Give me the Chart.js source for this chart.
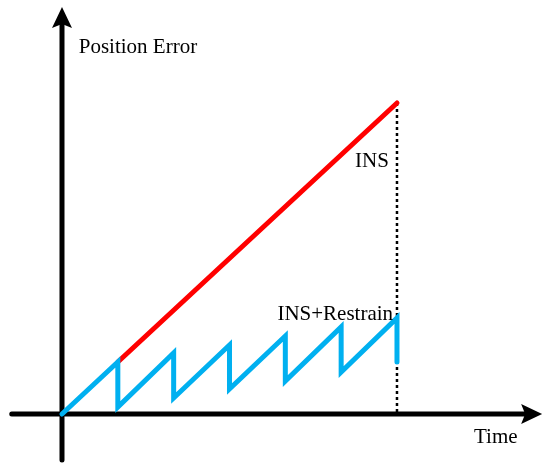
<!DOCTYPE html>
<html>
<head>
<meta charset="utf-8">
<script src="https://cdn.jsdelivr.net/npm/chart.js@4"></script>
<style>
  html, body { margin: 0; padding: 0; background: #fff; }
  #wrap { width: 550px; height: 468px; position: relative; }
</style>
</head>
<body>
<div id="wrap"><canvas id="myChart"></canvas></div>
<script>
// time steps and error values (arbitrary units)
const restrainTime = [0, 1, 1, 2, 2, 3, 3, 4, 4, 5, 5, 6, 6];
const restrainError = [0, 5.2, 0.7, 6.1, 1.6, 6.9, 2.5, 7.8, 3.3, 8.7, 4.2, 9.6, 5.2];
const insTime = [1, 6];
const insError = [5.2, 31.1];
const endTime = [6, 6];
const endError = [31.1, 0];

// axis extents in data units (incl. arrow tips)
const xAxisFrom = -0.9, xAxisTo = 8.6;
const yAxisFrom = -4.6, yAxisTo = 40.7;

const labels = [
  { text: 'Position Error', x: 0.3, y: 36.1, align: 'left' },
  { text: 'INS', x: 5.25, y: 24.7, align: 'left' },
  { text: 'INS+Restrain', x: 5.93, y: 9.4, align: 'right' },
  { text: 'Time', x: 7.38, y: -2.9, align: 'left' }
];

const toPoints = (xs, ys) => xs.map((x, i) => ({ x: x, y: ys[i] }));

const axesPlugin = {
  id: 'axes',
  beforeDatasetsDraw(chart) {
    const ctx = chart.ctx;
    const xs = chart.scales.x, ys = chart.scales.y;
    const ox = xs.getPixelForValue(0), oy = ys.getPixelForValue(0);
    const xl = xs.getPixelForValue(xAxisFrom), xr = xs.getPixelForValue(xAxisTo);
    const yb = ys.getPixelForValue(yAxisFrom), yt = ys.getPixelForValue(yAxisTo);
    ctx.save();
    ctx.strokeStyle = '#000';
    ctx.fillStyle = '#000';
    ctx.lineWidth = 5;
    ctx.lineCap = 'round';
    ctx.beginPath();
    ctx.moveTo(xl, oy); ctx.lineTo(xr - 15, oy);
    ctx.moveTo(ox, yb); ctx.lineTo(ox, yt + 15);
    ctx.stroke();
    // arrow heads
    ctx.beginPath();
    ctx.moveTo(xr, oy); ctx.lineTo(xr - 21, oy - 10); ctx.lineTo(xr - 17, oy); ctx.lineTo(xr - 21, oy + 10);
    ctx.closePath();
    ctx.moveTo(ox, yt); ctx.lineTo(ox - 10, yt + 21); ctx.lineTo(ox, yt + 17); ctx.lineTo(ox + 10, yt + 21);
    ctx.closePath();
    ctx.fill();
    ctx.restore();
  },
  afterDatasetsDraw(chart) {
    const ctx = chart.ctx;
    const xs = chart.scales.x, ys = chart.scales.y;
    ctx.save();
    ctx.fillStyle = '#000';
    ctx.font = '21px "Liberation Serif", "Times New Roman", serif';
    ctx.textBaseline = 'alphabetic';
    labels.forEach(l => {
      ctx.textAlign = l.align;
      ctx.fillText(l.text, xs.getPixelForValue(l.x), ys.getPixelForValue(l.y));
    });
    ctx.restore();
  }
};

new Chart(document.getElementById('myChart'), {
  type: 'line',
  data: {
    datasets: [{
      label: 'INS+Restrain',
      data: toPoints(restrainTime, restrainError),
      borderColor: '#00B0F0',
      borderWidth: 5,
      borderCapStyle: 'round',
      pointRadius: 0,
      tension: 0
    }, {
      label: 'INS',
      data: toPoints(insTime, insError),
      borderColor: '#FF0000',
      borderWidth: 5,
      borderCapStyle: 'round',
      pointRadius: 0,
      tension: 0
    }, {
      label: 'end',
      data: toPoints(endTime, endError),
      borderColor: '#000',
      borderWidth: 2.5,
      borderDash: [3, 3],
      pointRadius: 0,
      tension: 0
    }]
  },
  options: {
    responsive: true,
    maintainAspectRatio: false,
    animation: false,
    layout: { padding: 0 },
    plugins: { legend: { display: false }, tooltip: { enabled: false } },
    scales: {
      x: { type: 'linear', min: -1.1105, max: 8.7408, display: false },
      y: { type: 'linear', min: -5.4, max: 41.4, display: false }
    }
  },
  plugins: [axesPlugin]
});
</script>
</body>
</html>
